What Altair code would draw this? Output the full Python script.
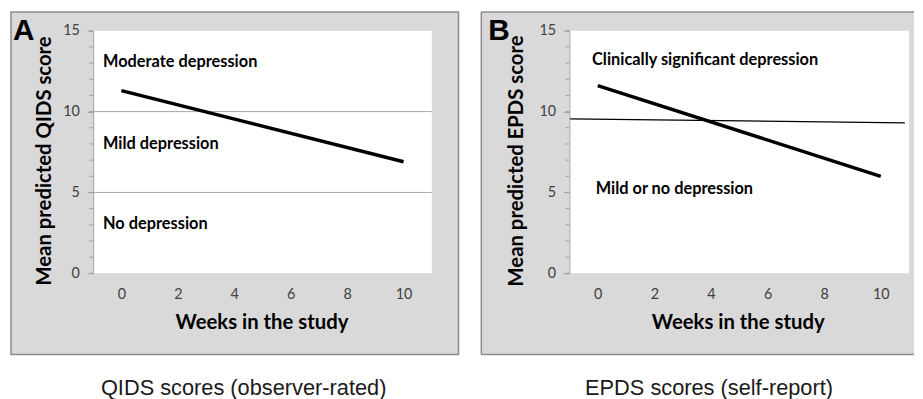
import altair as alt
import pandas as pd

# ---- data ----
weeks = [0, 10]
qids_scores = [11.3, 6.9]
epds_scores = [11.6, 6.0]
qids_cutoffs = [5, 10]
epds_cut_x = [-1, 10.85]
epds_cut_y = [9.55, 9.3]
x_ticks = [0, 2, 4, 6, 8, 10]
y_ticks = [0, 5, 10, 15]
minor_y = list(range(16))
qids_labels = ["Moderate depression", "Mild depression", "No depression"]
qids_label_x = [-0.65, -0.65, -0.65]
qids_label_y = [13.05, 8.0, 3.05]
epds_labels = ["Clinically significant  depression", "Mild or no depression"]
epds_label_x = [-0.2, -0.07]
epds_label_y = [13.2, 5.2]

H = 245
BOLD = "Lato"
GREY_AX = "#a0a0a0"


def xenc(field):
    return alt.X(
        field,
        type="quantitative",
        scale=alt.Scale(domain=[-1, 11], nice=False, zero=False),
        axis=alt.Axis(
            values=x_ticks, title="Weeks in the study", titleX=170, titleY=50,
            titleBaseline="middle", titleFont=BOLD, titleFontSize=20.5,
            titleFontWeight="bold", titleColor="#000000",
            ticks=False, domain=False, grid=False, labelPadding=14,
            labelFont=BOLD, labelFontSize=14.5, labelColor="#404040", zindex=1,
        ),
    )


def yenc(field, title, tx):
    return alt.Y(
        field,
        type="quantitative",
        scale=alt.Scale(domain=[0, 15], nice=False),
        axis=alt.Axis(
            values=y_ticks, title=title, titleX=tx, titleY=131, titleAngle=270,
            titleAlign="center", titleBaseline="middle", titleFont=BOLD,
            titleFontSize=20.5, titleFontWeight="bold", titleColor="#000000",
            tickSize=6, tickColor=GREY_AX, domainColor=GREY_AX, grid=False,
            labelPadding=8, labelFont=BOLD, labelFontSize=14.5,
            labelColor="#404040", zindex=1,
        ),
    )


one = pd.DataFrame({"k": [0]})


def panel(W, box_x, box_x2, ytitle, ytx, letter, letter_dx, caption, cap_x,
          scores, labels, lab_x, lab_y, grid_levels=None, cut=None, full_border=True):
    layers = []
    if full_border:
        layers.append(
            alt.Chart(one).mark_rect(fill="#d9d9d9", stroke="#8c8c8c", strokeWidth=1.5)
            .encode(x=alt.value(box_x), x2=alt.value(box_x2), y=alt.value(-19), y2=alt.value(327))
        )
    else:
        layers.append(
            alt.Chart(one).mark_rect(fill="#d9d9d9")
            .encode(x=alt.value(box_x), x2=alt.value(box_x2), y=alt.value(-19), y2=alt.value(327))
        )
        for enc in [
            dict(x=alt.value(box_x), x2=alt.value(box_x2), y=alt.value(-19)),
            dict(x=alt.value(box_x), x2=alt.value(box_x2), y=alt.value(327)),
            dict(x=alt.value(box_x), y=alt.value(-19), y2=alt.value(327)),
        ]:
            layers.append(alt.Chart(one).mark_rule(color="#8c8c8c", strokeWidth=1.5).encode(**enc))
    # white plot area
    layers.append(
        alt.Chart(one).mark_rect(fill="white")
        .encode(x=alt.value(0), x2=alt.value(W), y=alt.value(0), y2=alt.value(H))
    )
    if grid_levels is not None:
        layers.append(
            alt.Chart(pd.DataFrame({"level": grid_levels}))
            .mark_rule(color="#a6a6a6", strokeWidth=1)
            .encode(y=yenc("level", ytitle, ytx))
        )
    layers.append(
        alt.Chart(pd.DataFrame({"m": minor_y}))
        .mark_rule(color=GREY_AX, strokeWidth=1)
        .encode(x=alt.value(-4), x2=alt.value(0), y=yenc("m", ytitle, ytx))
    )
    if cut is not None:
        layers.append(
            alt.Chart(pd.DataFrame({"cx": cut[0], "cy": cut[1]}))
            .mark_line(color="#000000", strokeWidth=1.3)
            .encode(x=xenc("cx"), y=yenc("cy", ytitle, ytx))
        )
    layers.append(
        alt.Chart(pd.DataFrame({"week": weeks, "score": scores}))
        .mark_line(color="#000000", strokeWidth=3.5)
        .encode(x=xenc("week"), y=yenc("score", ytitle, ytx))
    )
    layers.append(
        alt.Chart(pd.DataFrame({"lx": lab_x, "ly": lab_y, "label": labels}))
        .mark_text(align="left", baseline="middle", font=BOLD, fontSize=16.5,
                   fontWeight="bold", color="#000000")
        .encode(x=xenc("lx"), y=yenc("ly", ytitle, ytx), text="label:N")
    )
    layers.append(
        alt.Chart(one).mark_text(text=letter, align="left", baseline="alphabetic",
                                 font="Liberation Sans", fontSize=30, fontWeight="bold",
                                 color="#000000")
        .encode(x=alt.value(box_x + letter_dx), y=alt.value(9))
    )
    layers.append(
        alt.Chart(one).mark_text(text=caption, align="center", baseline="middle",
                                 font="Liberation Sans", fontSize=22, color="#1a1a1a")
        .encode(x=alt.value(cap_x), y=alt.value(361))
    )
    return alt.layer(*layers).properties(width=W, height=H)


pA = panel(342, -83, 369, "Mean predicted QIDS score", -49, "A", 2,
           "QIDS scores (observer-rated)", 152, qids_scores, qids_labels,
           qids_label_x, qids_label_y, grid_levels=qids_cutoffs)
pB = panel(343, -89, 348, "Mean predicted EPDS score", -53, "B", 7,
           "EPDS scores (self-report)", 141, epds_scores, epds_labels,
           epds_label_x, epds_label_y, cut=(epds_cut_x, epds_cut_y), full_border=False)

chart = (
    alt.hconcat(pA, pB, spacing=21)
    .properties(padding={"left": 2, "top": 1, "right": 0, "bottom": 0}, background="white")
    .configure_view(strokeWidth=0)
)

chart.save("out.html", embed_options={"renderer": "svg", "actions": False})
